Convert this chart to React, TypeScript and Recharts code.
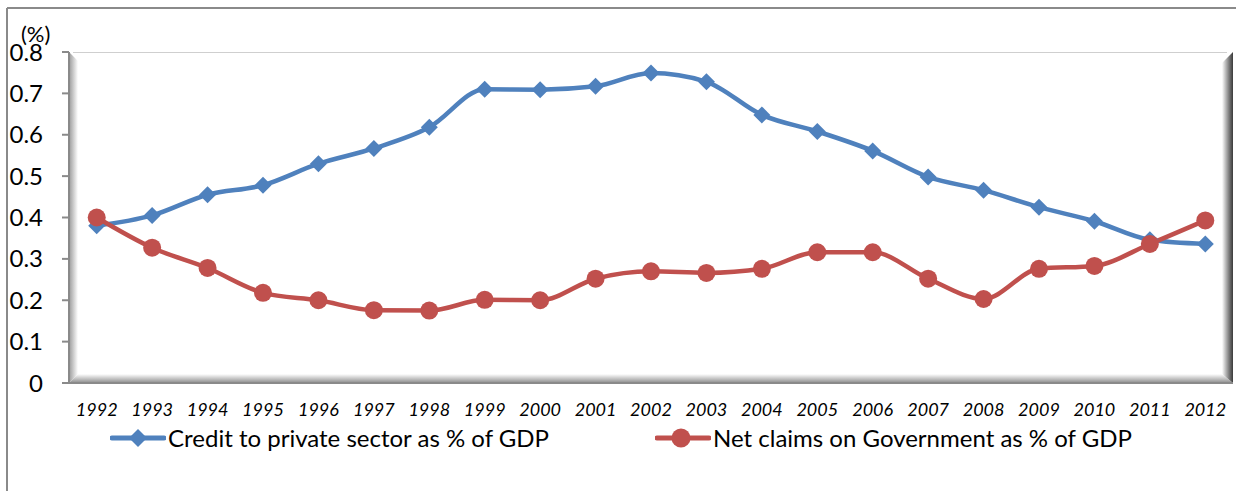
import { LineChart, Line, XAxis, YAxis, Legend } from 'recharts';

const years = ['1992', '1993', '1994', '1995', '1996', '1997', '1998', '1999', '2000', '2001', '2002', '2003', '2004', '2005', '2006', '2007', '2008', '2009', '2010', '2011', '2012'];
const creditPrivate = [0.38, 0.405, 0.455, 0.478, 0.53, 0.567, 0.618, 0.71, 0.709, 0.717, 0.749, 0.728, 0.648, 0.608, 0.561, 0.498, 0.466, 0.425, 0.391, 0.346, 0.336];
const netClaimsGov = [0.4, 0.327, 0.278, 0.218, 0.2, 0.176, 0.175, 0.201, 0.2, 0.252, 0.27, 0.266, 0.276, 0.316, 0.316, 0.252, 0.203, 0.276, 0.283, 0.336, 0.393];
const yTicks = [0, 0.1, 0.2, 0.3, 0.4, 0.5, 0.6, 0.7, 0.8];
const bandEdges = years.map((_, i) => i).concat(years.length);

const data = years.map((year, i) => ({ year, credit: creditPrivate[i], claims: netClaimsGov[i] }));

const W = 1236;
const H = 491;
const M = { top: 52, right: 3, bottom: 38, left: 9 };
const Y_W = 60;
// plot box, used only for the 3-D frame drawn behind the chart
const PL = M.left + Y_W;
const PT = M.top;
const PR = W - M.right;
const PB = 383;

const BLUE = '#4F81BD';
const RED = '#C0504D';
const FONT = 'Lato, "Open Sans", sans-serif';

const Diamond = (props: any) => {
  const { cx, cy } = props;
  if (cx == null || cy == null) return null;
  const r = 8.5;
  return <path d={`M${cx},${cy - r}L${cx + r},${cy}L${cx},${cy + r}L${cx - r},${cy}Z`} fill={BLUE} />;
};

const Dot = (props: any) => {
  const { cx, cy } = props;
  if (cx == null || cy == null) return null;
  return <circle cx={cx} cy={cy} r={9} fill={RED} />;
};

const LegendBox = () => (
  <div style={{ display: 'flex', justifyContent: 'center', gap: 106, fontFamily: FONT, fontSize: 24, color: '#000' }}>
    <div style={{ display: 'flex', alignItems: 'center' }}>
      <svg width={56} height={24}>
        <line x1={2} y1={12} x2={54} y2={12} stroke={BLUE} strokeWidth={5} strokeLinecap="round" />
        <path d="M28,3L37,12L28,21L19,12Z" fill={BLUE} />
      </svg>
      <span style={{ marginLeft: 2 }}>Credit to private sector as % of GDP</span>
    </div>
    <div style={{ display: 'flex', alignItems: 'center' }}>
      <svg width={56} height={24}>
        <line x1={2} y1={12} x2={54} y2={12} stroke={RED} strokeWidth={5} strokeLinecap="round" />
        <circle cx={26} cy={12} r={9.5} fill={RED} />
      </svg>
      <span style={{ marginLeft: 2 }}>Net claims on Government as % of GDP</span>
    </div>
  </div>
);

export default function App() {
  return (
    <div style={{ position: 'absolute', left: 0, top: 0, width: W, height: H, background: '#fff', overflow: 'hidden' }}>
      <svg width={W} height={H} style={{ position: 'absolute', left: 0, top: 0 }}>
        <defs>
          <linearGradient id="bevL" x1="0" y1="0" x2="1" y2="0">
            <stop offset="0%" stopColor="#9a9a9a" />
            <stop offset="100%" stopColor="#ffffff" />
          </linearGradient>
          <linearGradient id="bevB" x1="0" y1="1" x2="0" y2="0">
            <stop offset="0%" stopColor="#8c8c8c" />
            <stop offset="100%" stopColor="#ffffff" />
          </linearGradient>
          <linearGradient id="bevR" x1="1" y1="0" x2="0" y2="0">
            <stop offset="0%" stopColor="#3a3a3a" />
            <stop offset="35%" stopColor="#7a7a7a" />
            <stop offset="100%" stopColor="#ffffff" />
          </linearGradient>
        </defs>
        <line x1={7} y1={8} x2={W} y2={8} stroke="#8a8a8a" strokeWidth={2} />
        <line x1={7} y1={8} x2={7} y2={H} stroke="#8a8a8a" strokeWidth={2} />
        <rect x={PL} y={PT} width={PR - PL} height={PB - PT} fill="#fff" />
        <line x1={PL + 4} y1={PT + 0.5} x2={PR - 6} y2={PT + 0.5} stroke="#cfcfcf" strokeWidth={1} />
        <polygon points={`${PL},${PT} ${PL + 9},${PT + 9} ${PL + 9},${PB - 9} ${PL},${PB}`} fill="url(#bevL)" />
        <polygon points={`${PL},${PB} ${PL + 9},${PB - 9} ${PR - 11},${PB - 9} ${PR},${PB}`} fill="url(#bevB)" />
        <polygon points={`${PR},${PT} ${PR - 11},${PT + 11} ${PR - 11},${PB - 9} ${PR},${PB}`} fill="url(#bevR)" />
      </svg>
      <div style={{ position: 'absolute', left: 21, top: 21, fontFamily: FONT, fontSize: 22, color: '#000', lineHeight: '26px' }}>(%)</div>
      <div style={{ position: 'absolute', left: 0, top: 0 }}>
        <LineChart width={W} height={H} data={data} margin={M}>
          <XAxis
            xAxisId="edges"
            type="number"
            domain={[0, years.length]}
            ticks={bandEdges}
            tick={false}
            tickSize={7}
            height={8}
            stroke="#8a8a8a"
            strokeWidth={2}
            allowDataOverflow
          />
          <XAxis
            xAxisId="years"
            dataKey="year"
            scale="band"
            axisLine={false}
            tickLine={false}
            tickSize={0}
            tickMargin={12}
            height={32}
            interval={0}
            tick={{ fontSize: 18, fontStyle: 'italic', fill: '#000', fontFamily: FONT }}
          />
          <YAxis
            domain={[0, 0.8]}
            ticks={yTicks}
            width={Y_W}
            interval={0}
            tickSize={7}
            tickMargin={19}
            stroke="#8a8a8a"
            strokeWidth={2}
            tickFormatter={(v: number) => String(v)}
            tick={{ fontSize: 24, fill: '#000', fontFamily: FONT }}
          />
          <Legend verticalAlign="bottom" height={30} content={() => <LegendBox />} />
          <Line
            xAxisId="years"
            type="monotone"
            dataKey="credit"
            name="Credit to private sector as % of GDP"
            stroke={BLUE}
            strokeWidth={4.5}
            dot={<Diamond />}
            activeDot={false}
            isAnimationActive={false}
          />
          <Line
            xAxisId="years"
            type="monotone"
            dataKey="claims"
            name="Net claims on Government as % of GDP"
            stroke={RED}
            strokeWidth={4.5}
            dot={<Dot />}
            activeDot={false}
            isAnimationActive={false}
          />
        </LineChart>
      </div>
    </div>
  );
}
